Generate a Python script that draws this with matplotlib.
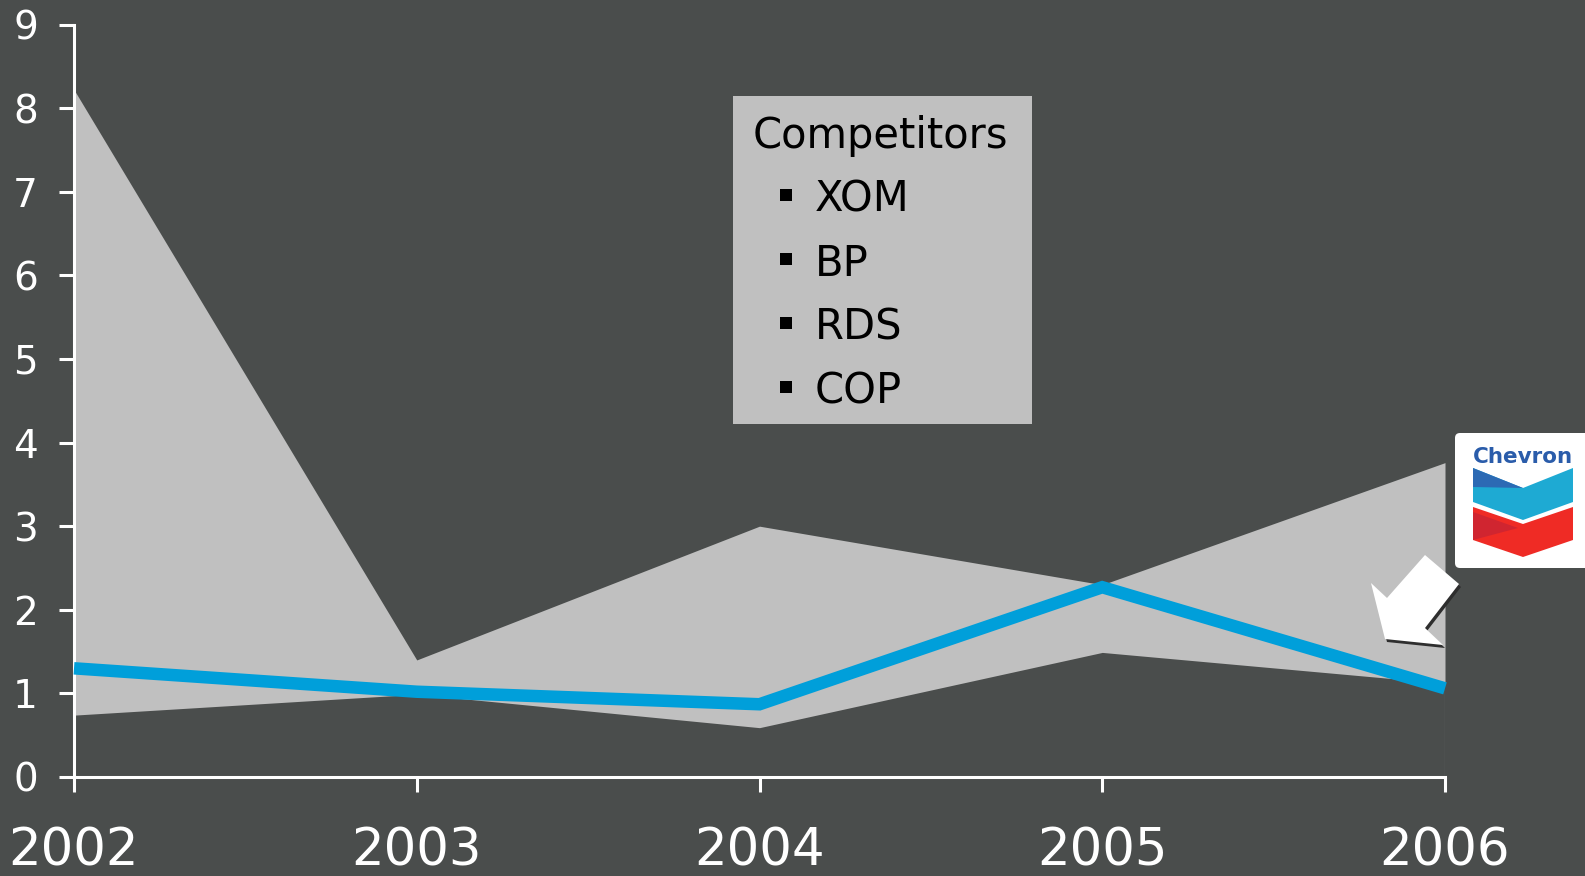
import numpy as np
import matplotlib
matplotlib.use("Agg")
import matplotlib.pyplot as plt
from matplotlib.patches import Polygon, Rectangle, FancyBboxPatch

# data
years = ["2002", "2003", "2004", "2005", "2006"]
comp_high = [8.22, 1.40, 3.00, 2.30, 3.76]
comp_low = [0.74, 0.99, 0.59, 1.49, 1.12]
chevron = [1.30, 1.02, 0.87, 2.27, 1.06]
legend_title = "Competitors"
competitors = ["XOM", "BP", "RDS", "COP"]

bg = "#4a4d4c"
band = "#c0c0c0"
blue = "#009fda"

W, H = 1585, 876
fig = plt.figure(figsize=(W / 100, H / 100), dpi=100)
fig.patch.set_facecolor(bg)

ax = fig.add_axes([74 / W, 1 - 777 / H, (1445 - 74) / W, (777 - 24.5) / H])
ax.set_facecolor(bg)
x = np.arange(len(years))
ax.fill_between(x, comp_low, comp_high, color=band, lw=0)
ax.vlines(x[-1], 0, comp_low[-1], color="#8a8a8a", lw=0.8)
ax.plot(x, chevron, color=blue, lw=9, solid_joinstyle="miter",
        solid_capstyle="butt", clip_on=False, zorder=3)

ax.set_xlim(0, 4)
ax.set_ylim(0, 9)
ax.set_xticks(x)
ax.set_xticklabels(years)
ax.set_yticks(range(10))
for s in ["top", "right"]:
    ax.spines[s].set_visible(False)
for s in ["left", "bottom"]:
    ax.spines[s].set_color("white")
    ax.spines[s].set_linewidth(2.2)
ax.tick_params(axis="both", colors="white", length=11, width=2.2, direction="out")
ax.tick_params(axis="x", labelsize=37, pad=25)
ax.tick_params(axis="y", labelsize=28, pad=15)

# overlay in pixel coordinates for the legend box, arrow and logo
ov = fig.add_axes([0, 0, 1, 1])
ov.set_xlim(0, W)
ov.set_ylim(H, 0)
ov.axis("off")
ov.patch.set_alpha(0)

ov.add_patch(Rectangle((733, 96), 299, 328, color=band, lw=0))
ov.text(753, 148, legend_title, fontsize=30, color="black", va="baseline")
for i, name in enumerate(competitors):
    base = 212 + i * 64
    ov.add_patch(Rectangle((780, base - 23), 12, 12, color="black", lw=0))
    ov.text(815, base, name, fontsize=30, color="black", va="baseline")

# arrow
arrow = [(1385, 639), (1371, 583), (1387, 598), (1425, 555),
         (1459, 584), (1425, 628), (1443, 645)]
shadow = [(px + 2, py + 3) for px, py in arrow]
ov.add_patch(Polygon(shadow, closed=True, color="#2e2e2e", lw=0))
ov.add_patch(Polygon(arrow, closed=True, color="white", lw=0))

# chevron logo
ov.add_patch(FancyBboxPatch((1455, 433), 140, 135,
                            boxstyle="round,pad=0,rounding_size=5",
                            color="white", lw=0))
ov.text(1523, 463, "Chevron", fontsize=15.5, fontweight="bold",
        color="#2a5caa", ha="center", va="baseline")
blue_chev = [(1473, 468), (1523, 488), (1573, 468), (1573, 502),
             (1523, 520), (1473, 502)]
red_chev = [(1473, 507), (1523, 524), (1573, 507), (1573, 540),
            (1523, 557), (1473, 540)]
ov.add_patch(Polygon(blue_chev, closed=True, color="#1eaad3", lw=0))
ov.add_patch(Polygon([(1473, 468), (1523, 488), (1473, 487)],
                     closed=True, color="#2c6ab4", lw=0))
ov.add_patch(Polygon(red_chev, closed=True, color="#ef2b25", lw=0))
ov.add_patch(Polygon([(1473, 512), (1473, 540), (1518, 528)],
                     closed=True, color="#d02530", lw=0))

fig.savefig("out.png", dpi=100, facecolor=bg)
